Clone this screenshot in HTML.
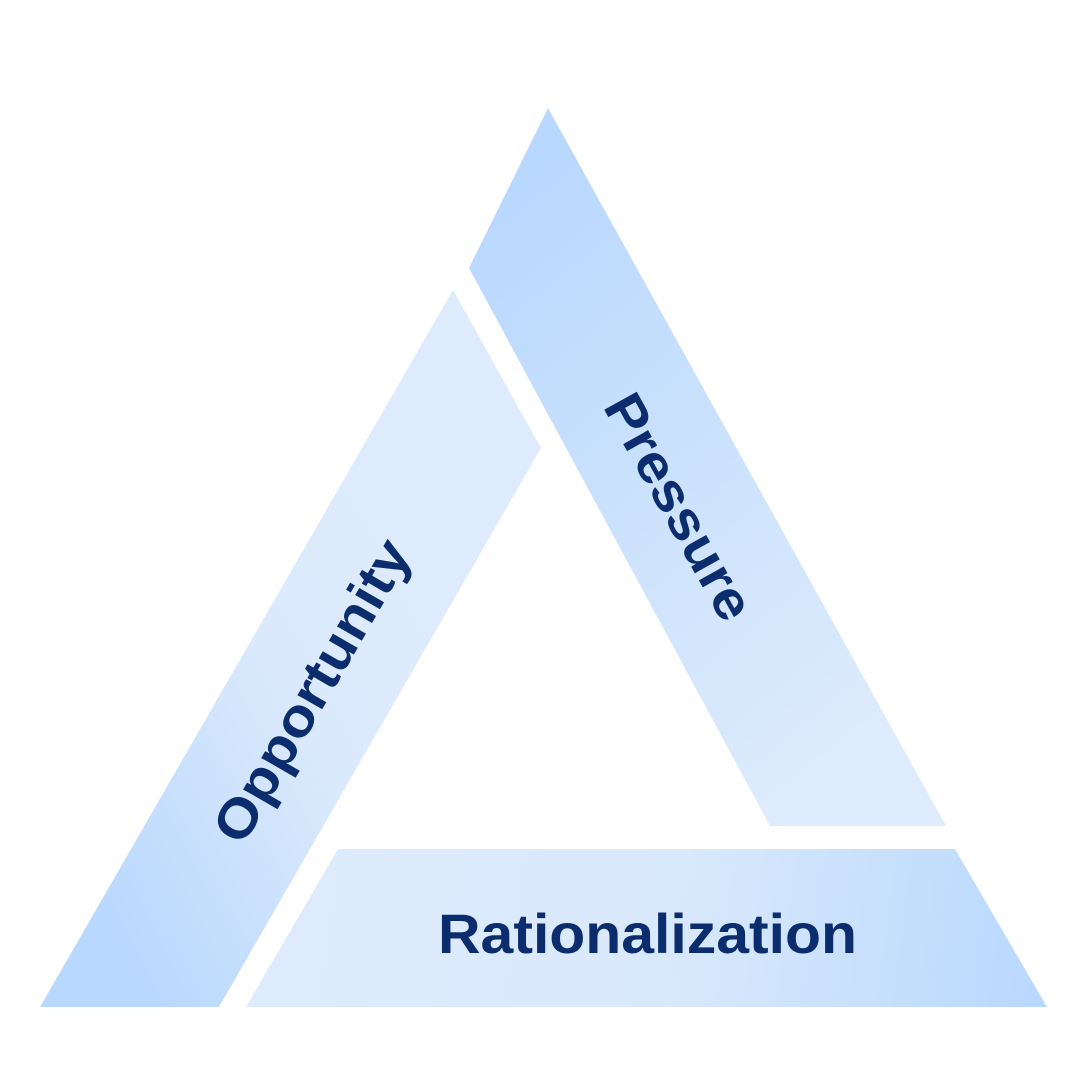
<!DOCTYPE html>
<html><head><meta charset="utf-8"><style>html,body{margin:0;padding:0;background:#fff}</style></head>
<body>
<svg width="1085" height="1085" viewBox="0 0 1085 1085" xmlns="http://www.w3.org/2000/svg">
<defs>
<linearGradient id="gp" x1="500" y1="200" x2="900" y2="700" gradientUnits="userSpaceOnUse">
<stop offset="0" stop-color="#b9d8fd"/><stop offset="1" stop-color="#ddebfc"/></linearGradient>
<linearGradient id="go" x1="100" y1="900" x2="480" y2="700" gradientUnits="userSpaceOnUse">
<stop offset="0" stop-color="#b9d8fd"/><stop offset="0.6" stop-color="#dae9fc"/><stop offset="1" stop-color="#ddebfc"/></linearGradient>
<linearGradient id="gr" x1="300" y1="900" x2="1040" y2="1000" gradientUnits="userSpaceOnUse">
<stop offset="0" stop-color="#ddebfc"/><stop offset="0.5" stop-color="#d9e9fc"/><stop offset="1" stop-color="#b9d8fd"/></linearGradient>
</defs>
<polygon points="548,108 946,826 770,826 469,268" fill="url(#gp)"/>
<polygon points="453,290 541,448 219,1007 40,1007" fill="url(#go)"/>
<polygon points="338,849 955,849 1047,1007 246,1007" fill="url(#gr)"/>
<g font-family="Liberation Sans, sans-serif" font-weight="bold" fill="#0b2d6e">
<text x="438" y="953" font-size="56" textLength="419" lengthAdjust="spacingAndGlyphs">Rationalization</text>
<text transform="translate(677,508) rotate(61)" x="0" y="0" dy="-2" font-size="54" text-anchor="middle" dominant-baseline="central" textLength="250" lengthAdjust="spacingAndGlyphs">Pressure</text>
<text transform="translate(312,691) rotate(-60)" x="0" y="0" font-size="54" text-anchor="middle" dominant-baseline="central" textLength="340" lengthAdjust="spacingAndGlyphs">Opportunity</text>
</g>
</svg>
</body></html>
